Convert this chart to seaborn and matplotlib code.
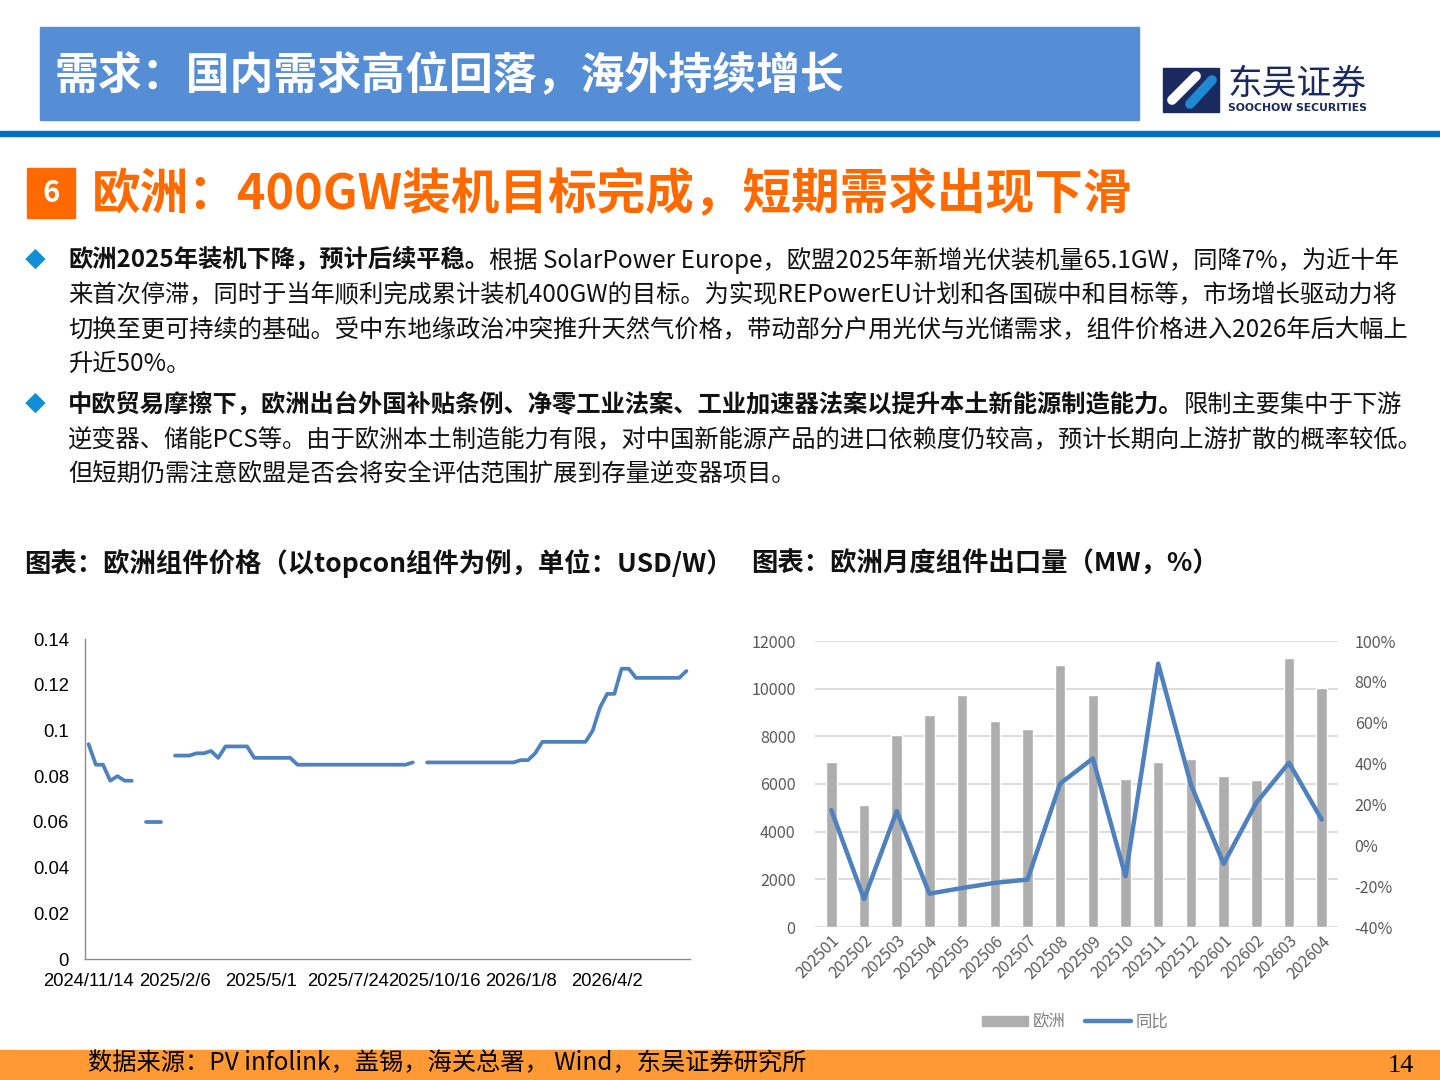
import numpy as np
import pandas as pd
import seaborn as sns
import matplotlib.pyplot as plt
from matplotlib.patches import Rectangle, Patch
from matplotlib.lines import Line2D
from matplotlib.ticker import FuncFormatter

sns.set_style('white')
plt.rcParams['font.family'] = ['Noto Sans CJK SC', 'DejaVu Sans']
plt.rcParams['axes.unicode_minus'] = False

nan = np.nan

# left chart: weekly TOPCon module price in Europe, USD/W
price_start = '2024-11-14'
price = [0.094, 0.085, 0.085, 0.078, 0.080, 0.078, 0.078,
         nan, 0.060, 0.060, 0.060, nan,
         0.089, 0.089, 0.089, 0.090, 0.090, 0.091, 0.088, 0.093, 0.093, 0.093, 0.093,
         0.088, 0.088, 0.088, 0.088, 0.088, 0.088,
         0.085, 0.085, 0.085, 0.085, 0.085, 0.085, 0.085, 0.085,
         0.085, 0.085, 0.085, 0.085, 0.085, 0.085, 0.085, 0.085,
         0.086, nan,
         0.086, 0.086, 0.086, 0.086, 0.086, 0.086, 0.086, 0.086, 0.086, 0.086, 0.086, 0.086, 0.086,
         0.087, 0.087, 0.090,
         0.095, 0.095, 0.095, 0.095, 0.095, 0.095, 0.095,
         0.100, 0.110, 0.116, 0.116, 0.127, 0.127,
         0.123, 0.123, 0.123, 0.123, 0.123, 0.123, 0.123, 0.126]
price_label_every = 12
price_yticks = [0, 0.02, 0.04, 0.06, 0.08, 0.1, 0.12, 0.14]

# right chart: monthly module exports to Europe (MW) and YoY (%)
months = ['202501', '202502', '202503', '202504', '202505', '202506', '202507', '202508',
          '202509', '202510', '202511', '202512', '202601', '202602', '202603', '202604']
export_mw = [6930, 5130, 8070, 8890, 9750, 8640, 8320, 11010,
             9720, 6190, 6930, 7060, 6320, 6180, 11300, 10030]
export_yoy = [17.2, -26.3, 16.7, -23.7, -20.9, -18.4, -16.8, 30.2,
              42.5, -15.2, 88.9, 29.8, -9.1, 20.8, 40.4, 12.6]

W, H = 1440, 1080
BLUE = '#4F81BD'
ORANGE = '#FF6A00'

fig = plt.figure(figsize=(W / 100, H / 100), dpi=100)
rend = fig.canvas.get_renderer()


def fx(x):
    return x / W


def fy(y):
    return 1 - y / H


def txt(x, y, s, **kw):
    kw.setdefault('va', 'center')
    return fig.text(fx(x), fy(y), s, **kw)


def box(x0, y0, x1, y1, color, **kw):
    fig.patches.append(Rectangle((fx(x0), fy(y1)), (x1 - x0) / W, (y1 - y0) / H,
                                 transform=fig.transFigure, color=color, **kw))


# header
box(40, 27, 1139, 120, '#558ED5')
txt(55, 75, '需求：国内需求高位回落，海外持续增长', color='white', fontsize=31.6, fontweight='bold')
box(0, 131, 1440, 136, '#0070C0')

# logo
box(1163, 68, 1219, 112, '#1B2A5E')
fig.lines.append(Line2D([fx(1172), fx(1196)], [fy(100), fy(76)], transform=fig.transFigure,
                        color='white', lw=7, solid_capstyle='round'))
fig.lines.append(Line2D([fx(1190), fx(1212)], [fy(104), fy(80)], transform=fig.transFigure,
                        color='#1E88D2', lw=7, solid_capstyle='round'))
txt(1227, 84, '东吴证券', color='#1B2A5E', fontsize=25)
txt(1228, 108, 'SOOCHOW SECURITIES', color='#1B2A5E', fontsize=7.8, fontweight='bold',
    family=['DejaVu Sans'])

# section title
box(27, 168, 75, 218, ORANGE)
txt(51, 193, '6', color='white', fontsize=21, fontweight='bold', ha='center')
txt(92, 194, '欧洲：400GW装机目标完成，短期需求出现下滑', color=ORANGE, fontsize=35, fontweight='bold')

# bullet text
FS = 17.5


def run_line(x, y, parts):
    for s, w in parts:
        t = txt(x, y, s, fontsize=FS, fontweight=w, color='#111111')
        x = t.get_window_extent(renderer=rend).x1


for yb in (261, 405):
    txt(35, yb, '◆', color='#0E8FD6', fontsize=15, ha='center')

run_line(68, 261, [('欧洲2025年装机下降，预计后续平稳。', 'bold'),
                   ('根据 SolarPower Europe，欧盟2025年新增光伏装机量65.1GW，同降7%，为近十年', 'normal')])
run_line(68, 295, [('来首次停滞，同时于当年顺利完成累计装机400GW的目标。为实现REPowerEU计划和各国碳中和目标等，市场增长驱动力将', 'normal')])
run_line(68, 330, [('切换至更可持续的基础。受中东地缘政治冲突推升天然气价格，带动部分户用光伏与光储需求，组件价格进入2026年后大幅上', 'normal')])
run_line(68, 364, [('升近50%。', 'normal')])
run_line(68, 405, [('中欧贸易摩擦下，欧洲出台外国补贴条例、净零工业法案、工业加速器法案以提升本土新能源制造能力。', 'bold'),
                   ('限制主要集中于下游', 'normal')])
run_line(68, 440, [('逆变器、储能PCS等。由于欧洲本土制造能力有限，对中国新能源产品的进口依赖度仍较高，预计长期向上游扩散的概率较低。', 'normal')])
run_line(68, 474, [('但短期仍需注意欧盟是否会将安全评估范围扩展到存量逆变器项目。', 'normal')])

# chart titles
txt(24, 564, '图表：欧洲组件价格（以topcon组件为例，单位：USD/W）', fontsize=19, fontweight='bold', color='#111111')
txt(751, 564, '图表：欧洲月度组件出口量（MW，%）', fontsize=19, fontweight='bold', color='#111111')

# ---- left chart: price line with gaps
dates = pd.date_range(price_start, periods=len(price), freq='7D')
df_p = pd.DataFrame({'week': np.arange(len(price)), 'price': price})
df_p['seg'] = df_p['price'].isna().cumsum()
df_p = df_p.dropna()

ax1 = fig.add_axes([fx(85), fy(959), 605 / W, 320 / H])
sns.lineplot(data=df_p, x='week', y='price', units='seg', estimator=None,
             color=BLUE, lw=2.7, ax=ax1)
for ln in ax1.lines:
    ln.set_solid_capstyle('round')
ax1.set_xlim(-0.5, len(price) - 0.5)
ax1.set_ylim(0, 0.14)
ax1.set_yticks(price_yticks)
ax1.set_yticklabels([f'{v:g}' for v in price_yticks])
major = np.arange(0, len(price), price_label_every)
ax1.set_xticks(major)
ax1.set_xticklabels([f'{d.year}/{d.month}/{d.day}' for d in dates[major]])
ax1.set_xticks(np.arange(-0.5, len(price), 1.0), minor=True)
ax1.tick_params(axis='x', which='major', length=0, pad=10)
ax1.tick_params(axis='x', which='minor', length=4.3, color='#A0A0A0', width=0.8)
ax1.tick_params(axis='y', length=3.6, color='#A0A0A0', pad=8)
for lab in ax1.get_xticklabels() + ax1.get_yticklabels():
    lab.set_family(['Liberation Sans'])
    lab.set_fontsize(13.3)
    lab.set_color('black')
ax1.set_xlabel('')
ax1.set_ylabel('')
for s in ['top', 'right']:
    ax1.spines[s].set_visible(False)
for s in ['left', 'bottom']:
    ax1.spines[s].set_color('#8C8C8C')
    ax1.spines[s].set_linewidth(1)

# ---- right chart: bars + yoy line
df_e = pd.DataFrame({'month': months, 'mw': export_mw, 'yoy': export_yoy})
ax2 = fig.add_axes([fx(815), fy(927), 523 / W, 286 / H])
sns.barplot(data=df_e, x='month', y='mw', color='#AEAEAE', width=0.32, saturation=1, ax=ax2)
ax2.set_ylim(0, 12000)
ax2.set_yticks(np.arange(0, 12001, 2000))
ax2.grid(axis='y', color='#D9D9D9', lw=1.3)
ax2.set_axisbelow(True)
ax2.set_xlim(-0.5, len(months) - 0.5)
ax2.set_xlabel('')
ax2.set_ylabel('')
ax2.tick_params(axis='y', length=0, pad=14, labelsize=11.6, labelcolor='#595959')
ax2.tick_params(axis='x', length=0, pad=4, labelsize=11.6, labelcolor='#595959')
plt.setp(ax2.get_xticklabels(), rotation=45, ha='right', rotation_mode='anchor')
for s in ax2.spines.values():
    s.set_visible(False)

ax3 = ax2.twinx()
sns.lineplot(x=np.arange(len(months)), y=df_e['yoy'], color=BLUE, lw=3.2, ax=ax3)
ax3.set_ylim(-40, 100)
ax3.set_yticks(np.arange(-40, 101, 20))
ax3.yaxis.set_major_formatter(FuncFormatter(lambda v, p: f'{v:.0f}%'))
ax3.tick_params(axis='y', length=0, pad=12, labelsize=11.6, labelcolor='#595959')
ax3.set_ylabel('')
ax3.grid(False)
for s in ax3.spines.values():
    s.set_visible(False)

handles = [Patch(color='#AEAEAE', label='欧洲'), Line2D([], [], color=BLUE, lw=3.2, label='同比')]
leg = fig.legend(handles=handles, loc='center', bbox_to_anchor=(fx(1075), fy(1022)), ncol=2,
                 frameon=False, fontsize=11.8, handlelength=2.8, handleheight=0.6, columnspacing=1.2,
                 handletextpad=0.3)
for t in leg.get_texts():
    t.set_color('#7F7F7F')

# footer
box(0, 1050, 1440, 1080, '#FF9933')
txt(88, 1063, '数据来源：PV infolink，盖锡，海关总署， Wind，东吴证券研究所', fontsize=17.5, color='black')
txt(1401, 1066, '14', fontsize=19, color='black', ha='center', family=['Liberation Serif'])

fig.savefig('out.png', dpi=100)
